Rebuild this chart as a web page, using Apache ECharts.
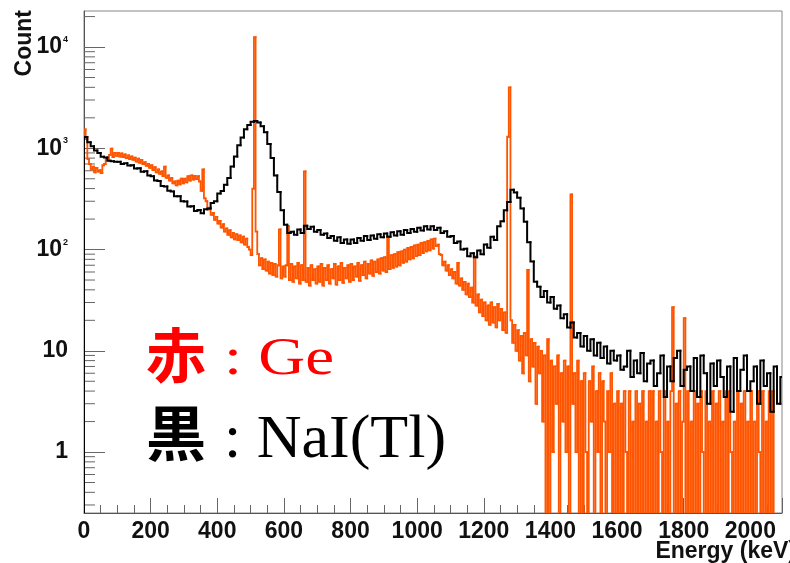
<!DOCTYPE html>
<html>
<head>
<meta charset="utf-8">
<script src="https://cdn.jsdelivr.net/npm/echarts@6/dist/echarts.min.js"></script>
<style>
  html, body { margin: 0; padding: 0; background: #ffffff; }
  #chart { width: 790px; height: 563px; }
</style>
</head>
<body>
<div id="chart"></div>
<script>
// Energy axis (keV) and count axis (log) ranges
const energyMin = 0;
const energyMax = 2095;
const energyStep = 200;
const countMin = 0.25;
const countMax = 22700;

// Tick labels on the log count axis (decade -> label)
const decadeLabels = { 1: '1', 10: '10', 100: '10^2', 1000: '10^3', 10000: '10^4' };

// NaI(Tl) spectrum, 10 keV bins starting at 0 keV
const naiBinWidth = 10;
const naiCounts = [
  1290, 1150, 1050, 950, 900, 825, 810, 755, 745, 735,
  735, 700, 710, 675, 680, 632, 636, 588, 594, 540,
  530, 480, 474, 425, 420, 380, 375, 336, 336, 300,
  298, 266, 268, 240, 246, 228, 250, 254, 288, 300,
  358, 378, 436, 508, 662, 828, 1070, 1280, 1540, 1700,
  1830, 1860, 1800, 1650, 1440, 1100, 800, 540, 370, 245,
  176, 146, 150, 140, 158, 146, 172, 160, 168, 150,
  156, 140, 144, 130, 136, 122, 132, 116, 126, 114,
  126, 116, 130, 122, 136, 124, 138, 128, 142, 132,
  144, 134, 148, 138, 152, 140, 156, 146, 160, 150,
  164, 154, 170, 158, 170, 156, 164, 146, 152, 134,
  136, 116, 120, 100, 102, 86, 92, 84, 98, 90,
  112, 104, 134, 124, 170, 190, 245, 295, 390, 365,
  325, 255, 188, 118, 76, 48, 43, 34, 39, 30,
  34, 26, 28, 21, 23, 17, 19, 13.5, 15, 11,
  14, 10, 13, 9, 12, 8.5, 11, 7.5, 10, 8,
  9, 6.5, 7, 10, 5.5, 8, 6, 9.5, 5, 7.5,
  8, 4.5, 6, 9, 3.5, 7, 5, 8.5, 10, 4.5,
  6.5, 7, 4, 8.5, 3.5, 9, 6, 3, 7.5, 4.5,
  8, 5.5, 3.5, 7, 2.5, 8.5, 4, 6.5, 9, 4,
  5, 7, 3, 8, 4.5, 6, 2.5, 7, 3, 5.5
];

// Ge spectrum, 5 keV bins starting at 0 keV (0 = empty bin)
const geBinWidth = 5;
const geCounts = [
  1540, 1230, 780, 700, 620, 660, 580, 640, 590, 610, 570, 680, 700, 790, 760, 860, 990, 820, 900, 840,
  900, 830, 890, 820, 870, 800, 850, 780, 830, 770, 810, 740, 790, 720, 770, 700, 730, 670, 700, 640,
  680, 610, 650, 580, 620, 560, 590, 530, 660, 510, 540, 480, 510, 450, 470, 430, 480, 440, 500, 450,
  500, 460, 530, 480, 540, 490, 535, 495, 530, 470, 380, 620, 320, 300, 250, 260, 220, 230, 196, 210,
  180, 192, 165, 178, 150, 162, 140, 155, 132, 146, 126, 142, 124, 138, 118, 134, 112, 128, 106, 100,
  88, 400, 12500, 150, 90, 70, 82, 64, 80, 62, 76, 58, 74, 56, 72, 54, 70, 158, 52, 68,
  54, 70, 170, 50, 72, 48, 68, 52, 74, 46, 70, 50, 590, 48, 66, 44, 70, 50, 64, 46,
  68, 48, 72, 44, 66, 50, 70, 46, 64, 52, 72, 45, 68, 50, 74, 47, 66, 52, 70, 48,
  72, 50, 68, 54, 74, 49, 70, 56, 76, 52, 72, 58, 78, 55, 76, 60, 80, 58, 82, 62,
  84, 60, 134, 64, 88, 66, 90, 68, 94, 70, 96, 74, 100, 76, 104, 80, 106, 82, 110, 86,
  112, 88, 116, 92, 118, 96, 122, 98, 126, 102, 128, 108, 112, 90, 88, 70, 76, 62, 70, 56,
  64, 52, 60, 46, 74, 44, 52, 40, 48, 36, 46, 34, 42, 30, 85, 28, 36, 24, 32, 22,
  30, 20, 28, 18, 30, 19, 27, 17, 29, 20, 26, 16, 24, 15, 1300, 4000, 20, 12, 18, 10,
  16, 8, 14, 6, 15, 9, 63, 5, 13, 7, 12, 3, 11, 6, 10, 2, 9, 0, 13, 0,
  8, 1, 7, 3, 9, 0, 6, 2, 8, 1, 7, 0, 350, 3, 6, 1, 8, 0, 5, 0,
  6, 1, 0, 5, 2, 7, 0, 4, 1, 6, 0, 5, 2, 0, 4, 1, 6, 0, 3, 0,
  4, 0, 3, 0, 4, 1, 0, 4, 0, 2, 0, 4, 0, 3, 0, 4, 0, 2, 0, 4,
  0, 4, 0, 2, 0, 4, 1, 0, 4, 0, 2, 0, 4, 27, 0, 3, 0, 4, 0, 2,
  21, 0, 4, 0, 2, 0, 4, 0, 3, 0, 4, 1, 0, 4, 0, 2, 0, 4, 0, 3,
  0, 4, 0, 2, 0, 4, 0, 4, 1, 0, 2, 0, 4, 0, 3, 0, 4, 0, 2, 0,
  4, 0, 2, 0, 4, 1, 0, 4, 0, 2, 0, 4, 0, 4, 0, 0, 0, 0, 0, 0
];

// Histogram outline drawn bin by bin: rise/fall at the left edge, then the bin top
function histogramSeries(name, values, width, color, lineWidth, z) {
  return {
    name: name,
    type: 'custom',
    z: z,
    clip: true,
    silent: true,
    encode: { x: [0, 1], y: 2 },
    data: values.map((v, i) => [i * width, (i + 1) * width, v]),
    renderItem: function (params, api) {
      const i = params.dataIndex;
      const cs = params.coordSys;
      const floorY = cs.y + cs.height + 3;
      const yOf = (v) => (v > 0 ? Math.min(api.coord([0, v])[1], floorY) : floorY);
      const x0 = api.coord([api.value(0), 1])[0];
      const x1 = api.coord([api.value(1), 1])[0];
      const prev = i > 0 ? values[i - 1] : 0;
      const y = yOf(api.value(2));
      return {
        type: 'polyline',
        shape: { points: [[x0, yOf(prev)], [x0, y], [x1, y]] },
        style: { stroke: color, lineWidth: lineWidth, fill: 'none', lineJoin: 'miter', lineCap: 'square' }
      };
    }
  };
}

// Log sub-ticks (2..9 in each decade) for the count axis
const logSubTicks = [];
for (let d = 0.1; d < countMax; d *= 10) {
  for (let m = 2; m <= 9; m++) {
    const v = +(d * m).toPrecision(3);
    if (v > countMin && v < countMax) logSubTicks.push([energyMin, v]);
  }
}

const axisFont = 'Liberation Sans';
const axisFontSize = 23;
const chart = echarts.init(document.getElementById('chart'), null, { renderer: 'canvas' });

chart.setOption({
  animation: false,
  backgroundColor: '#ffffff',
  grid: { left: 84, right: 8, top: 11, bottom: 50, show: true, borderColor: '#888', borderWidth: 1, backgroundColor: 'transparent' },
  xAxis: {
    type: 'value',
    min: energyMin,
    max: energyMax,
    interval: energyStep,
    axisLine: { show: true, onZero: false, lineStyle: { color: '#555', width: 1 } },
    axisTick: { show: true, inside: true, length: 15, lineStyle: { color: '#666', width: 1 } },
    minorTick: { show: true, splitNumber: 4, length: 8, lineStyle: { color: '#666', width: 1 } },
    splitLine: { show: false },
    axisLabel: {
      show: true, margin: 7, showMaxLabel: false,
      formatter: function (value) { return String(value); },
      fontFamily: axisFont, fontWeight: 'bold', fontSize: axisFontSize, color: '#111'
    }
  },
  yAxis: {
    type: 'log',
    logBase: 10,
    min: countMin,
    max: countMax,
    axisLine: { show: true, lineStyle: { color: '#555', width: 1 } },
    axisTick: { show: true, inside: true, length: 21, lineStyle: { color: '#666', width: 1 } },
    splitLine: { show: false },
    axisLabel: {
      show: true, margin: 16, showMinLabel: false, showMaxLabel: false,
      formatter: function (value) {
        const key = Math.round(value);
        const lab = decadeLabels[key];
        if (!lab) return '';
        if (lab.indexOf('^') < 0) return '{b|' + lab + '}';
        const parts = lab.split('^');
        return '{b|' + parts[0] + '}{s|' + parts[1] + '}';
      },
      rich: {
        b: { fontFamily: axisFont, fontWeight: 'bold', fontSize: axisFontSize, color: '#111', lineHeight: 24 },
        s: { fontFamily: axisFont, fontWeight: 'bold', fontSize: 9, color: '#111', verticalAlign: 'top', padding: [0, 0, 0, 1] }
      }
    }
  },
  series: [
    {
      name: 'log sub-ticks',
      type: 'custom',
      silent: true,
      z: 1,
      data: logSubTicks,
      renderItem: function (params, api) {
        const p = api.coord([api.value(0), api.value(1)]);
        return {
          type: 'line',
          shape: { x1: p[0], y1: p[1], x2: p[0] + 11, y2: p[1] },
          style: { stroke: '#666', lineWidth: 1 }
        };
      }
    },
    histogramSeries('Ge', geCounts, geBinWidth, '#ff5500', 1.8, 2),
    histogramSeries('NaI(Tl)', naiCounts, naiBinWidth, '#000000', 2, 3)
  ],
  graphic: [
    {
      type: 'text', x: 25, y: 10, rotation: Math.PI / 2, z: 10,
      style: { text: 'Count', fontFamily: axisFont, fontWeight: 'bold', fontSize: axisFontSize, fill: '#111', align: 'right', verticalAlign: 'middle' }
    },
    {
      type: 'text', x: 796, y: 552, z: 10,
      style: { text: 'Energy (keV)', fontFamily: axisFont, fontWeight: 'bold', fontSize: axisFontSize, fill: '#111', align: 'right', verticalAlign: 'middle' }
    },
    {
      type: 'text', x: 146, y: 355, z: 10,
      style: { text: '赤', fontFamily: 'Noto Sans CJK JP', fontWeight: 'bold', fontSize: 60, fill: '#ff0000', align: 'left', verticalAlign: 'middle' }
    },
    {
      type: 'text', x: 224, y: 360, z: 10, scaleX: 1.25,
      style: { text: ': Ge', fontFamily: 'Liberation Serif', fontSize: 52, fill: '#ff0000', align: 'left', verticalAlign: 'middle' }
    },
    {
      type: 'text', x: 146, y: 433, z: 10,
      style: { text: '黒', fontFamily: 'Noto Sans CJK JP', fontWeight: 'bold', fontSize: 60, fill: '#000000', align: 'left', verticalAlign: 'middle' }
    },
    {
      type: 'text', x: 224, y: 441, z: 10,
      style: { text: ': NaI(Tl)', fontFamily: 'Liberation Serif', fontSize: 62, fill: '#000000', align: 'left', verticalAlign: 'middle' }
    }
  ]
});
</script>
</body>
</html>
